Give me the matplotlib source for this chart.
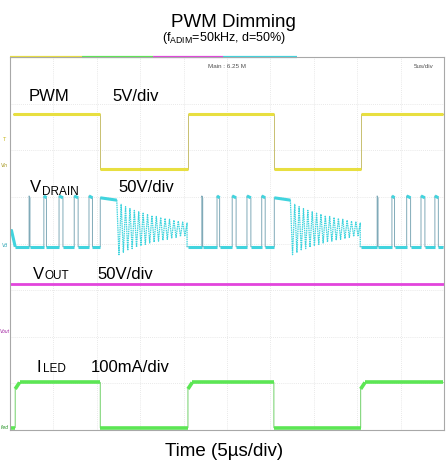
import numpy as np
import matplotlib.pyplot as plt

plt.rcParams["font.family"] = ["Liberation Sans", "DejaVu Sans"]

# time in microseconds (5 us/div, 10 div), level in screen divisions (8 div)
pwm_edges = [0.4, 10.4, 20.5, 30.4, 40.4, 49.9]
pwm_high = 6.77
pwm_low = 5.59

iled_edges = [0.6, 10.4, 20.5, 30.4, 40.4, 49.9]
iled_high = 1.02
iled_low = 0.05
iled_knee = 0.88

vout_level = 3.13

drain_base = 3.93
drain_top = 5.02
drain_start = 4.30
drain_pulses = [2.2, 3.9, 5.65, 7.4, 9.1,
                22.1, 23.85, 25.6, 27.3, 29.0,
                42.3, 44.0, 45.7, 47.35, 48.95]
drain_pulse_w = [0.1, 0.3, 0.45, 0.45, 0.4,
                 0.1, 0.3, 0.45, 0.45, 0.4,
                 0.1, 0.3, 0.45, 0.45, 0.4]
plateau_start = [10.4, 30.45]
ring_start = [12.3, 32.3]
ring_stop = [20.4, 40.35]
ring_center = 4.31
ring_amp = [0.55, 0.53, 0.50, 0.48, 0.46, 0.44, 0.42, 0.40,
            0.39, 0.37, 0.36, 0.34, 0.33, 0.32, 0.30, 0.29,
            0.28, 0.27, 0.26, 0.25, 0.24, 0.23, 0.22, 0.21,
            0.20, 0.19, 0.18, 0.17, 0.16, 0.15, 0.14, 0.13]

YELLOW = "#e8df40"
CYAN = "#40d4de"
MAGENTA = "#e244dc"
GREEN = "#5ce654"


def square_trace(edges, hi, lo, start_high, knee=None):
    t = [edges[0]]
    y = [hi if start_high else lo]
    level_high = start_high
    if not start_high:
        t.append(edges[0])
        y.append(knee if knee is not None else hi)
        level_high = True
        if knee is not None:
            t.append(edges[0] + 0.5)
            y.append(hi)
    for e in edges[1:-1]:
        t += [e, e]
        if level_high:
            y += [hi, lo]
        else:
            y += [lo, knee if knee is not None else hi]
        level_high = not level_high
        if level_high and knee is not None:
            t.append(e + 0.5)
            y.append(hi)
    t.append(edges[-1])
    y.append(hi if level_high else lo)
    return t, y


def drain_trace():
    t = [0.15, 0.6]
    y = [drain_start, drain_base]
    rings = []
    events = [("p", p, w) for p, w in zip(drain_pulses, drain_pulse_w)]
    events += [("r", s, i) for i, s in enumerate(plateau_start)]
    events.sort(key=lambda e: e[1])
    for kind, start, arg in events:
        if kind == "p":
            t += [start, start, start + arg, start + arg]
            y += [drain_base, drain_top, drain_top - 0.04, drain_base]
        else:
            rs, re_ = ring_start[arg], ring_stop[arg]
            t += [start, start, rs]
            y += [drain_base, drain_top - 0.04, drain_top - 0.09]
            times = np.linspace(rs, re_, len(ring_amp) + 1)[1:]
            rt, ry = [rs], [drain_top - 0.09]
            for k, (tk, a) in enumerate(zip(times, ring_amp)):
                rt.append(tk)
                ry.append(ring_center - a if k % 2 == 0 else ring_center + a)
            rt.append(re_)
            ry.append(drain_base)
            rings.append((rt, ry))
            t += [np.nan, re_, re_ + 0.05]
            y += [np.nan, drain_base, drain_base]
    t.append(49.9)
    y.append(drain_base)
    return t, y, rings


def plot_trace(ax, t, y, color, edge_color, lw):
    # thin transitions, thick fuzzy levels like a scope trace
    ax.plot(t, y, color=edge_color, lw=0.7)
    for i in range(len(t) - 1):
        if np.isnan(y[i]) or np.isnan(y[i + 1]):
            continue
        if t[i + 1] - t[i] > 0.15:
            ax.plot(t[i:i + 2], y[i:i + 2], color=color, lw=lw,
                    solid_capstyle="butt")


fig = plt.figure(figsize=(4.48, 4.64), dpi=100)
ax = fig.add_axes([10 / 448, 1 - 431 / 464, 434 / 448, 373 / 464])
ax.set_xlim(0, 50)
ax.set_ylim(0, 8)
ax.set_xticks(np.arange(0, 51, 5))
ax.set_yticks(np.arange(0, 9, 1))
ax.tick_params(length=0, labelbottom=False, labelleft=False)
ax.grid(True, color="#e2e2e2", lw=0.6, ls=(0, (1, 1.5)))
for s in ax.spines.values():
    s.set_color("#a8a8a8")
    s.set_linewidth(0.8)

# coloured channel bar on top frame
bar_cuts = [0, 0.166, 0.329, 0.491, 0.661]
bar_cols = [YELLOW, GREEN, MAGENTA, CYAN]
for a, b, c in zip(bar_cuts[:-1], bar_cuts[1:], bar_cols):
    ax.plot([a, b], [1, 1], color=c, lw=1.6, transform=ax.transAxes,
            clip_on=False, solid_capstyle="butt")

pt, py = square_trace(pwm_edges, pwm_high, pwm_low, True)
plot_trace(ax, pt, py, YELLOW, "#c8c070", 2.2)

it, iy = square_trace(iled_edges, iled_high, iled_low, False, knee=iled_knee)
plot_trace(ax, [0.15] + it, [iled_low] + iy, GREEN, "#70d068", 2.6)

ax.plot([0.1, 49.9], [vout_level, vout_level], color=MAGENTA, lw=2.0)

dt, dy, rings = drain_trace()
plot_trace(ax, dt, dy, CYAN, "#80aab8", 2.2)
for rt, ry in rings:
    ax.plot(rt, ry, color=CYAN, lw=0.9, ls=(0, (1.2, 0.6)))

# scope header and channel markers
ax.text(0.50, 0.985, "Main : 6.25 M", transform=ax.transAxes, ha="center",
        va="top", fontsize=4.5, color="#505050")
ax.text(0.975, 0.985, "5us/div", transform=ax.transAxes, ha="right",
        va="top", fontsize=4.5, color="#505050")
yt = ax.get_yaxis_transform()
ax.text(-0.013, 6.25, "T", transform=yt, ha="center", va="center",
        fontsize=4, color="#c8b820", clip_on=False)
ax.text(-0.013, 5.7, "Vin", transform=yt, ha="center", va="center",
        fontsize=3.5, color="#a09010", style="italic", clip_on=False)
ax.text(-0.013, 3.97, "Vd", transform=yt, ha="center", va="center",
        fontsize=3.5, color="#20a0b0", style="italic", clip_on=False)
ax.text(-0.013, 2.13, "Vout", transform=yt, ha="center", va="center",
        fontsize=3.5, color="#a020a0", style="italic", clip_on=False)
ax.text(-0.013, 0.07, "Iled", transform=yt, ha="center", va="center",
        fontsize=3.5, color="#209020", style="italic", clip_on=False)


def ftext(x, y, s, size, **kw):
    fig.text(x / 448, 1 - y / 464, s, fontsize=size, va="baseline", **kw)


ftext(29, 101, "PWM", 12)
ftext(112, 101, "5V/div", 12)
ftext(30, 192, "V", 12)
ftext(42, 195, "DRAIN", 8.5)
ftext(118, 192, "50V/div", 12)
ftext(33, 279, "V", 12)
ftext(44, 279, "OUT", 8.5)
ftext(97, 279, "50V/div", 12)
ftext(36, 372, "I", 12)
ftext(43, 372, "LED", 8.5)
ftext(91, 372, "100mA/div", 12)

fig.text(0.52, 1 - 27 / 464, "PWM Dimming", fontsize=13.5, ha="center",
         va="baseline")
fig.text(0.50, 1 - 41 / 464, r"(f$\mathregular{_{ADIM}}$=50kHz, d=50%)",
         fontsize=9, ha="center", va="baseline")
fig.text(0.50, 1 - 456 / 464, "Time (5µs/div)", fontsize=13.5, ha="center",
         va="baseline")

fig.savefig("out.png", dpi=100)
